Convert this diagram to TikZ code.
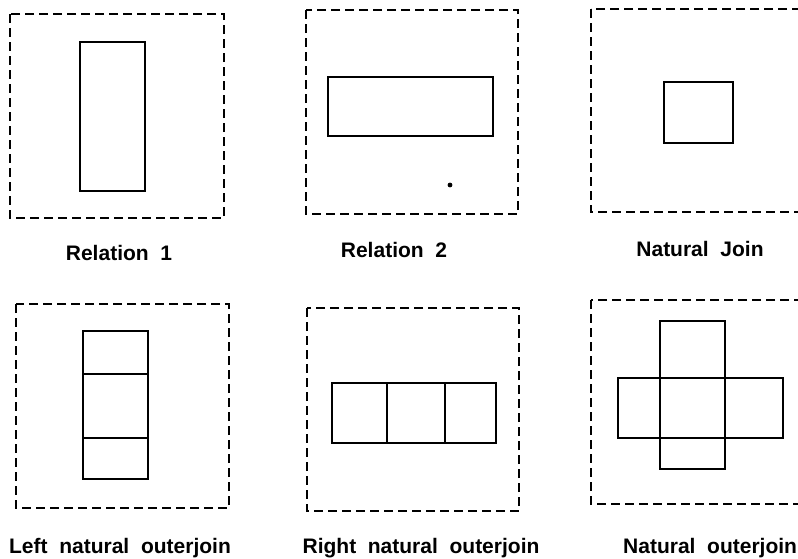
\documentclass[tikz,border=0pt]{standalone}
\usepackage{fontspec}
\setmainfont{Liberation Sans}
\begin{document}
\begin{tikzpicture}[x=1pt,y=-1pt,
  frame/.style={draw=black, line width=2.7pt, dash pattern=on 9pt off 5pt},
  rel/.style={draw=black, line width=2.6pt},
  caption/.style={font=\fontsize{21}{24}\selectfont\bfseries, inner sep=0pt, anchor=base}]
  \useasboundingbox (0,0) rectangle (798,558);
  \clip (0,0) rectangle (798,558);

  % Relation 1
  \draw[frame] (10,14) rectangle (224,218);
  \draw[rel] (80,42) rectangle (145,191);
  \node[caption] (c1) at (119,260) {Relation\ \ 1};

  % Relation 2
  \draw[frame] (306,10) rectangle (518,214);
  \draw[rel] (328,77) rectangle (493,136);
  \fill (450,185) circle (2.4);
  \node[caption] (c2) at (394,257) {Relation\ \ 2};

  % Natural join
  \draw[frame] (591,9) rectangle (808,212);
  \draw[rel] (664,82) rectangle (733,143);
  \node[caption] (c3) at (700,256) {Natural\ \ Join};

  % Left natural outerjoin
  \draw[frame] (16,304) rectangle (229,508);
  \draw[rel] (83,331) rectangle (148,479);
  \draw[rel] (83,374) -- (148,374);
  \draw[rel] (83,438) -- (148,438);
  \node[caption] (c4) at (120,553) {Left\ \ natural\ \ outerjoin};

  % Right natural outerjoin
  \draw[frame] (307,308) rectangle (519,511);
  \draw[rel] (332,383) rectangle (496,443);
  \draw[rel] (387,383) -- (387,443);
  \draw[rel] (445,383) -- (445,443);
  \node[caption] (c5) at (421,553) {Right\ \ natural\ \ outerjoin};

  % Natural outerjoin
  \draw[frame] (591,300) rectangle (808,504);
  \draw[rel] (660,321) rectangle (725,469);
  \draw[rel] (618,378) rectangle (783,438);
  \node[caption, anchor=base west] (c6) at (623,553) {Natural\ \ outerjoin};
\end{tikzpicture}
\end{document}
